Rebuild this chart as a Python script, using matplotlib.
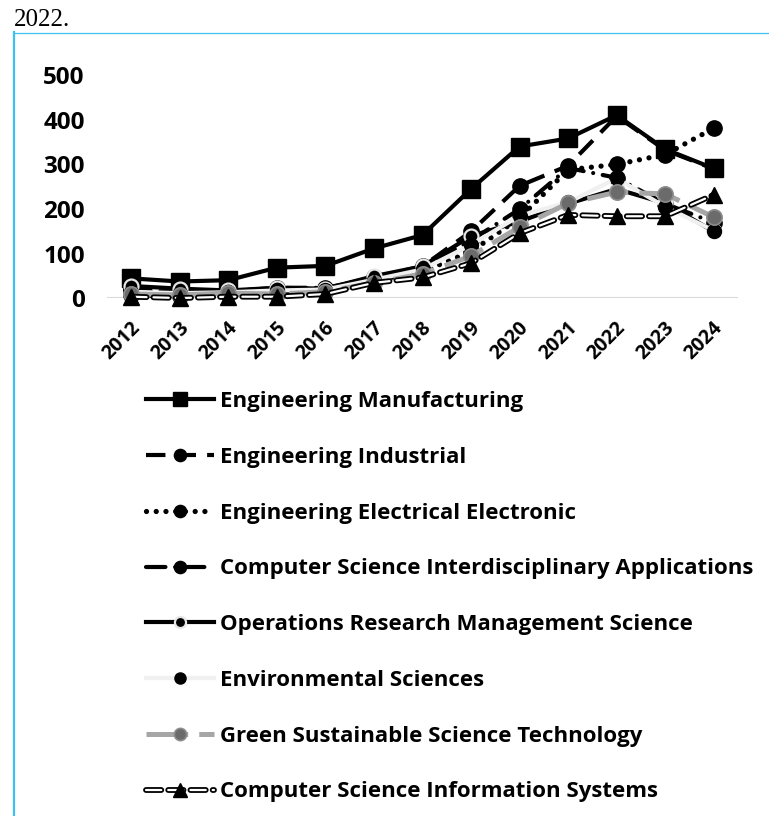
import matplotlib
matplotlib.use("Agg")
import matplotlib.pyplot as plt
import matplotlib.lines as mlines
from matplotlib.legend_handler import HandlerTuple
import matplotlib.transforms as mtransforms

plt.rcParams['lines.scale_dashes'] = False
plt.rcParams['font.family'] = ['Open Sans', 'DejaVu Sans']

years = ['2012', '2013', '2014', '2015', '2016', '2017', '2018',
         '2019', '2020', '2021', '2022', '2023', '2024']

eng_manufacturing = [45, 38, 41, 69, 73, 112, 142, 245, 340, 358, 410, 334, 291]
eng_industrial = [22, 16, 12, 20, 22, 48, 72, 150, 252, 297, 408, 332, 290]
eng_electrical = [8, 6, 10, 12, 18, 40, 60, 105, 180, 288, 300, 322, 381]
cs_interdisciplinary = [20, 14, 16, 24, 24, 45, 70, 130, 200, 292, 270, 212, 170]
operations_research = [28, 22, 18, 24, 22, 50, 72, 140, 172, 212, 245, 213, 150]
environmental = [15, 12, 14, 18, 20, 42, 65, 120, 185, 215, 269, 205, 152]
green_sustainable = [10, 8, 12, 10, 15, 35, 55, 95, 160, 213, 238, 234, 182]
cs_information = [4, 1, 4, 4, 10, 35, 47, 79, 146, 187, 184, 184, 232]

labels = ['Engineering Manufacturing', 'Engineering Industrial',
          'Engineering Electrical Electronic',
          'Computer Science Interdisciplinary Applications',
          'Operations Research Management Science', 'Environmental Sciences',
          'Green Sustainable Science Technology',
          'Computer Science Information Systems']

W, H = 769, 816
fig = plt.figure(figsize=(W / 100, H / 100), dpi=100)

# page decorations
fig.text(14 / W, 1 - 26 / H, '2022.', family='Liberation Serif', fontsize=18,
         color='black', va='baseline', ha='left')
fig.add_artist(mlines.Line2D([13.5 / W, 13.5 / W], [0, 1 - 32 / H],
                             transform=fig.transFigure, color='#3ec1ef', lw=1.6))
fig.add_artist(mlines.Line2D([13 / W, 1], [1 - 32.5 / H, 1 - 32.5 / H],
                             transform=fig.transFigure, color='#3ec1ef', lw=0.9))

left, right = 107 / W, 738 / W
bottom, top = 1 - 298.5 / H, 1 - 75 / H
ax = fig.add_axes([left, bottom, right - left, top - bottom])
x = list(range(len(years)))

ax.axhline(0, color='#d9d9d9', lw=2.2, zorder=1)

lw = 3.0
handles = []
h, = ax.plot(x, eng_manufacturing, color='black', lw=lw, marker='s', ms=13,
             zorder=2.3, clip_on=False)
handles.append(h)
h, = ax.plot(x, eng_industrial, color='black', lw=lw, marker='o', ms=11,
             dashes=(14, 8), dash_capstyle='butt', zorder=2.0, clip_on=False)
handles.append(h)
h, = ax.plot(x, eng_electrical, color='black', lw=3.8, marker='o', ms=11,
             dashes=(0.01, 7), dash_capstyle='round', zorder=2.1, clip_on=False)
handles.append(h)
h, = ax.plot(x, cs_interdisciplinary, color='black', lw=lw, marker='o', ms=11,
             dashes=(14, 7, 0.01, 7), dash_capstyle='round', zorder=2.2,
             clip_on=False)
handles.append(h)
h, = ax.plot(x, operations_research, color='black', lw=lw, marker='o', ms=10,
             mfc='black', mec='#e6e6e6', mew=1.6, zorder=2.4, clip_on=False)
handles.append(h)
h, = ax.plot(x, environmental, color='#f0f0f0', lw=lw, marker='o', ms=10,
             mfc='black', mec='black', zorder=2.5, clip_on=False)
handles.append(h)
h, = ax.plot(x, green_sustainable, color='#a6a6a6', lw=3.6, marker='o', ms=11,
             mfc='#6b6b6b', mec='#8c8c8c', mew=1.2, dashes=(30, 8),
             zorder=2.6, clip_on=False)
handles.append(h)
# CS information systems: white dashes outlined in black
l_out, = ax.plot(x, cs_information, color='black', lw=4.2, dashes=(11, 5),
                 dash_capstyle='round', zorder=2.7, clip_on=False)
l_in, = ax.plot(x, cs_information, color='white', lw=1.6, dashes=(11, 5),
                dash_capstyle='round', zorder=2.75, clip_on=False)
l_mk, = ax.plot(x, cs_information, color='black', lw=0, marker='^', ms=12,
                zorder=2.8, clip_on=False)
handles.append((l_out, l_in, l_mk))

ax.set_xlim(-0.5, len(years) - 0.5)
ax.set_ylim(0, 500)
ax.set_yticks([0, 100, 200, 300, 400, 500])
ax.set_xticks(x)
ax.set_xticklabels(years, rotation=45, ha='right', va='center',
                   rotation_mode='anchor', fontsize=14, fontweight='bold')
for lab in ax.get_yticklabels():
    lab.set_fontsize(17.5)
    lab.set_fontweight('bold')
ax.tick_params(axis='both', length=0)
ax.tick_params(axis='x', pad=19)
ax.tick_params(axis='y', pad=16)
off = mtransforms.ScaledTranslation(6 / 100, 0, fig.dpi_scale_trans)
for lab in ax.get_xticklabels():
    lab.set_transform(lab.get_transform() + off)
for s in ax.spines.values():
    s.set_visible(False)

leg = fig.legend(handles, labels, loc='upper left',
                 bbox_to_anchor=(146 / W, 1 - 391 / H), frameon=False,
                 prop={'weight': 'bold', 'size': 16},
                 handlelength=3.05, handletextpad=0.3, labelspacing=1.565,
                 borderpad=0, borderaxespad=0, numpoints=1, markerscale=0.8,
                 handler_map={tuple: HandlerTuple(ndivide=1, pad=0)})

fig.savefig('out.png', dpi=100)
